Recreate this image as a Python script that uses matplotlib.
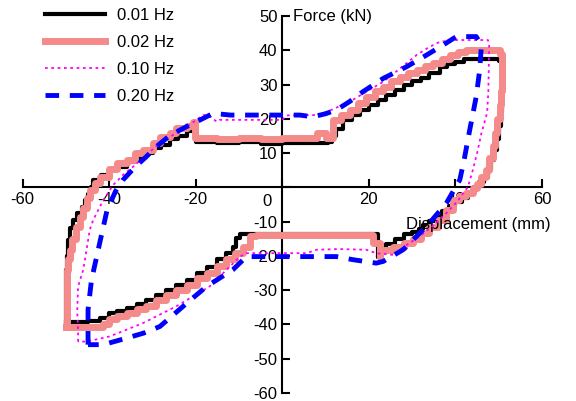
import numpy as np
import matplotlib
matplotlib.use("Agg")
import matplotlib.pyplot as plt

plt.rcParams['font.family'] = ['Liberation Sans', 'DejaVu Sans']

# 0.01 Hz loop (displacement mm, force kN)
x_001 = [-50, -50, -49.8, -49.5, -49, -48.3, -47.5, -46.4, -45.7, -45, -44.3, -43.7, -42, -40,
         -38, -36, -34, -32, -30, -28, -26, -24, -22, -20.5, -20, -15, -10, -5, 0, 5, 10.5,
         11.5, 12.5, 14, 16, 18, 20, 22, 24, 26, 28, 30, 32, 34, 36.4, 38, 40, 42, 45, 48, 50,
         51, 51, 50.8, 50.5, 50, 49.5, 49, 48.3, 47.5, 46.5, 45.5, 44.3, 43, 41.5, 40, 38.5,
         37, 35.5, 34, 32.5, 31.5, 30, 28, 26, 24, 22.5, 22, 22, 15, 5, 0, -5, -8.7, -9.8,
         -10.6, -11.4, -13, -15.2, -17.5, -19.8, -22, -24.5, -27, -29.1, -31.5, -33.7, -36,
         -38.3, -40, -42.2, -45, -48, -50]
y_001 = [-39.3, -24, -20, -15.3, -12, -9.5, -7.5, -5.6, -3.8, -2, 0, 2.2, 3.5, 5, 6, 7.5, 8.5,
         10, 11.5, 12.5, 14, 15, 16.5, 17.8, 13.2, 13, 13.2, 12.8, 13, 13, 13.2, 15, 17, 19.7,
         21, 22.5, 24, 25.5, 27, 28.5, 30, 31, 32, 33.5, 35.2, 36, 36.5, 37.4, 37.4, 37.4, 37,
         35, 30, 22, 18, 14, 11, 8, 5.5, 3, 1.5, 0, -1.5, -3, -4.2, -5.5, -7, -8.5, -9.8, -11,
         -12.2, -13, -13.5, -15, -16.5, -18.2, -20, -20.2, -13.6, -13.6, -13.6, -13.6, -13.6,
         -13.6, -14.8, -17.3, -19.2, -21, -23.1, -25, -27, -28.5, -29.9, -31.5, -32.8, -34,
         -35.2, -36, -36.7, -38, -39.1, -39.3, -39.3, -39.3]

# 0.02 Hz loop
x_002 = [-50, -49.8, -49.5, -49.1, -48.5, -47.7, -46.8, -46, -45.2, -44.5, -43.4, -42.2, -40,
         -38.3, -36, -34, -32.2, -30, -28.3, -26, -24.5, -22, -20.6, -20.2, -15, -10, -5, 0, 5,
         8, 10.2, 11.7, 13.5, 15.6, 17.5, 19.4, 21.5, 23.3, 25, 27.1, 29, 31, 33, 34.8, 37,
         38.7, 40.5, 42.5, 45, 48.6, 50.3, 50.8, 50.8, 50.5, 50.2, 49.7, 49.2, 48.6, 47.8, 47,
         46, 45, 44, 42.5, 40.9, 39.5, 37.9, 36, 34, 32, 30.2, 28, 25.6, 22.5, 22.5, 20.9, 10,
         0, -5.2, -6, -7.5, -9.1, -11, -13, -15.2, -17.5, -19.8, -22, -24.5, -27, -29.1, -31.5,
         -33.7, -36, -38.3, -40, -41.5, -45, -50]
y_002 = [-40.6, -24, -21, -18.2, -15, -11.5, -8.5, -6, -3, -0.7, 1.3, 3.1, 5.5, 7.1, 8, 10,
         10.9, 13, 14.8, 16, 17.3, 18, 19, 14.3, 14, 14.5, 14, 14.3, 14.5, 16, 14.5, 19.7, 21,
         22.6, 24.5, 26.5, 28, 29.4, 31, 32.3, 33.5, 34.3, 35.5, 36.2, 37.5, 38.6, 39.5, 40.1,
         40, 40, 39, 35, 28, 24, 20, 16, 12, 8.5, 5, 3, 1, -0.3, -1.5, -2.5, -3.6, -6.5, -9.5,
         -11.5, -13.4, -15, -16.3, -17.3, -18.2, -20.2, -16.3, -13.8, -13.8, -13.8, -13.8,
         -14.3, -17.3, -19.2, -21, -23, -25, -26.5, -28.5, -30, -31.5, -33, -34.5, -35.5, -36.7,
         -37.5, -38.5, -40, -40.6, -40.6, -40.6]

# 0.10 Hz loop
x_010 = [-47.2, -47.2, -47.4, -47.2, -46, -44.5, -43.7, -41.5, -39.1, -36.5, -34.5, -31, -28.3,
         -25, -22.1, -18.3, -17, -15.2, -14.5, -7, 0, 1, 5, 8.6, 12, 15.6, 19.5, 23.3, 27, 31,
         34, 36.4, 40, 47.5, 47.8, 47.7, 47.6, 47.3, 46, 45, 44, 42.9, 40.5, 37.9, 35, 31.7,
         28.5, 25.6, 21.7, 19.4, 13, 7.9, 5.6, 0, -8.3, -9.8, -16.8, -24.5, -32.2, -39.9,
         -45.2, -47.2]
y_010 = [-45, -42, -36, -28.9, -24, -12.4, -9.5, -4, 0.7, 4, 6, 10, 12.9, 15.5, 17.7, 21.1, 21,
         19.2, 19.7, 19.7, 19.7, 21, 21.1, 21.1, 23, 25, 28, 30.8, 34.5, 38.6, 41, 42.5, 43, 43,
         42, 35, 28, 21.7, 15.8, 10, 5, 0.2, -4, -7.5, -11, -14.3, -17, -19.7, -19.2, -18.2,
         -18, -18.2, -19.2, -19.2, -19.2, -20.2, -28.9, -34.7, -39.6, -43.5, -45, -45]

# 0.20 Hz loop
x_020 = [-44.9, -44.9, -44.9, -44.1, -42.2, -40.5, -38.5, -36.8, -34, -31.4, -29, -26.8, -24,
         -21.4, -18.5, -16, -12, -5, 0, 4, 7.1, 10, 12.5, 15.5, 18.6, 23.3, 28.7, 33.3, 37.1,
         40.2, 44.8, 46, 45.6, 44.8, 43.3, 42, 41, 40, 37.9, 34, 31.7, 27.9, 23.3, 21.7, 16.3,
         12.5, 5, 0, -8.3, -11.4, -17.5, -22.1, -28.3, -32, -36, -41.4, -44.9]
y_020 = [-45.9, -42, -35.7, -27, -16.2, -6.6, -1, 2.2, 6, 9, 12, 14.3, 16.5, 18.2, 20, 21.6,
         21.1, 21.1, 21.1, 21.1, 20.6, 21.5, 22.6, 25, 27.9, 31.8, 35.2, 38.6, 41.5, 44, 44,
         41.5, 34.3, 26.5, 16.8, 8, 2.2, 0, -4.6, -10.4, -13.4, -18.2, -21.6, -22.1, -21.1,
         -20.2, -20.2, -20.2, -20.2, -24, -28.9, -33.8, -40.6, -42.5, -44, -45.9, -45.9]

labels = ['0.01 Hz', '0.02 Hz', '0.10 Hz', '0.20 Hz']

fig = plt.figure(figsize=(5.76, 4.01), dpi=100)
ax = fig.add_axes([0.0394, 0.02, 0.9016, 0.94])

ax.plot(x_001, y_001, color='black', lw=3, drawstyle='steps-post', label=labels[0], zorder=2)
ax.plot(x_002, y_002, color='#f48a8a', lw=5, drawstyle='steps-post', label=labels[1], zorder=3)
ax.plot(x_010, y_010, color='magenta', lw=1.3, linestyle=(0, (1.5, 2)), label=labels[2], zorder=4)
ax.plot(x_020, y_020, color='blue', lw=3.5, linestyle=(0, (2.8, 2.2)), label=labels[3], zorder=5)

ax.set_xlim(-60, 60)
ax.set_ylim(-60, 50)
ax.spines['left'].set_position(('data', 0))
ax.spines['bottom'].set_position(('data', 0))
ax.spines['right'].set_visible(False)
ax.spines['top'].set_visible(False)
ax.spines['left'].set_linewidth(1.5)
ax.spines['bottom'].set_linewidth(1.5)
ax.set_xticks(np.arange(-60, 61, 20))
ax.set_yticks(np.arange(-60, 51, 10))
ax.tick_params(direction='in', length=6, width=1.5, labelsize=12)
ax.set_yticklabels(['' if v == 0 else str(v) for v in range(-60, 51, 10)])
ax.set_xticklabels(['' if v == 0 else str(v) for v in range(-60, 61, 20)])

# origin label sits left of the force axis
ax.text(-3.5, -1.8, '0', fontsize=12, ha='center', va='top')
ax.text(2.5, 50, 'Force (kN)', fontsize=12, ha='left', va='center')
ax.text(28.5, -10.8, 'Displacement (mm)', fontsize=12, ha='left', va='center', clip_on=False)

ax.legend(loc='upper left', bbox_to_anchor=(0.078, 0.98), bbox_transform=fig.transFigure,
          frameon=False, fontsize=12, handlelength=3.6, handletextpad=0.7, labelspacing=0.72,
          borderpad=0, borderaxespad=0)

fig.savefig('out.png', dpi=100)
